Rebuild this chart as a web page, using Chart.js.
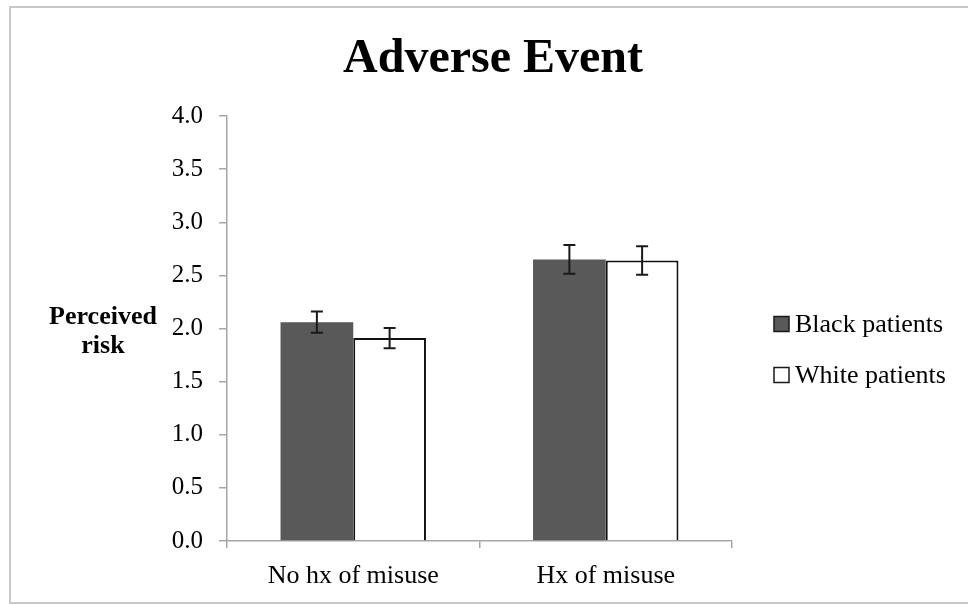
<!DOCTYPE html>
<html>
<head>
<meta charset="utf-8">
<title>Adverse Event</title>
<script src="https://cdn.jsdelivr.net/npm/chart.js@4/dist/chart.umd.min.js"></script>
<style>
  html, body { margin: 0; padding: 0; background: #fff; }
  #wrap { width: 968px; height: 604px; position: relative; }
</style>
</head>
<body>
<div id="wrap"><canvas id="chart" width="968" height="604"></canvas></div>
<script>
// Data
const categories = ['No hx of misuse', 'Hx of misuse'];
const seriesNames = ['Black patients', 'White patients'];
const blackValues = [2.06, 2.65];
const whiteValues = [1.91, 2.64];
const blackErrors = [0.10, 0.135];
const whiteErrors = [0.095, 0.135];
const yTicks = [0, 0.5, 1, 1.5, 2, 2.5, 3, 3.5, 4];

const SERIF = '"Liberation Serif", "Times New Roman", serif';
const AXIS_GREY = '#a6a6a6';

// error bars drawn from the y scale
const errorBarPlugin = {
  id: 'errorBars',
  afterDatasetsDraw(chart) {
    const ctx = chart.ctx;
    const y = chart.scales.y;
    ctx.save();
    ctx.strokeStyle = '#1a1a1a';
    ctx.lineWidth = 2;
    chart.data.datasets.forEach((ds, i) => {
      const meta = chart.getDatasetMeta(i);
      meta.data.forEach((bar, j) => {
        const v = ds.data[j];
        const e = ds.errors[j];
        const top = y.getPixelForValue(v + e);
        const bot = y.getPixelForValue(v - e);
        const cap = 6;
        ctx.beginPath();
        ctx.moveTo(bar.x, top); ctx.lineTo(bar.x, bot);
        ctx.moveTo(bar.x - cap, top); ctx.lineTo(bar.x + cap, top);
        ctx.moveTo(bar.x - cap, bot); ctx.lineTo(bar.x + cap, bot);
        ctx.stroke();
      });
    });
    ctx.restore();
  }
};

// title, horizontal y title, side legend and the frame
const decorPlugin = {
  id: 'decor',
  afterDraw(chart) {
    const ctx = chart.ctx;
    ctx.save();
    // frame
    ctx.strokeStyle = '#c8c8c8';
    ctx.lineWidth = 2;
    ctx.beginPath();
    ctx.moveTo(968, 7); ctx.lineTo(10, 7); ctx.lineTo(10, 603); ctx.lineTo(968, 603);
    ctx.stroke();

    ctx.fillStyle = '#000';
    ctx.textBaseline = 'alphabetic';
    ctx.textAlign = 'center';

    // title
    ctx.font = 'bold 48px ' + SERIF;
    ctx.fillText('Adverse Event', 493, 72);

    // y title
    ctx.font = 'bold 26px ' + SERIF;
    ctx.fillText('Perceived', 103, 324);
    ctx.fillText('risk', 103, 353);

    // legend
    ctx.font = '26px ' + SERIF;
    ctx.textAlign = 'left';
    chart.data.datasets.forEach((ds, i) => {
      const cy = 324 + i * 51;
      ctx.fillStyle = ds.backgroundColor;
      ctx.fillRect(774, cy - 7.5, 15, 15);
      ctx.strokeStyle = '#1a1a1a';
      ctx.lineWidth = 1.5;
      ctx.strokeRect(774, cy - 7.5, 15, 15);
      ctx.fillStyle = '#000';
      ctx.textBaseline = 'middle';
      ctx.fillText(ds.label, 795, cy + 1);
    });
    ctx.restore();
  }
};

new Chart(document.getElementById('chart'), {
  type: 'bar',
  data: {
    labels: categories,
    datasets: [
      {
        label: seriesNames[0],
        data: blackValues,
        errors: blackErrors,
        backgroundColor: '#595959',
        borderColor: '#595959',
        borderWidth: 0,
      },
      {
        label: seriesNames[1],
        data: whiteValues,
        errors: whiteErrors,
        backgroundColor: '#ffffff',
        borderColor: '#111111',
        borderWidth: 2,
      }
    ]
  },
  options: {
    responsive: false,
    animation: false,
    datasets: { bar: { categoryPercentage: 0.576, barPercentage: 1.0 } },
    layout: { padding: { left: 0, right: 236, top: 116, bottom: 0 } },
    plugins: {
      legend: { display: false },
      tooltip: { enabled: false },
      title: { display: false }
    },
    scales: {
      x: {
        offset: true,
        grid: { offset: true, drawOnChartArea: false, tickLength: 7, color: AXIS_GREY, lineWidth: 1.5 },
        border: { color: AXIS_GREY, width: 1.5 },
        ticks: { color: '#000', font: { family: SERIF, size: 26 }, padding: 13 },
        afterFit(scale) { scale.height = 63; }
      },
      y: {
        min: 0,
        max: 4,
        afterBuildTicks(scale) { scale.ticks = yTicks.map(v => ({ value: v })); },
        grid: { drawOnChartArea: false, tickLength: 8, color: AXIS_GREY, lineWidth: 1.5 },
        border: { color: AXIS_GREY, width: 1.5 },
        ticks: {
          color: '#000',
          font: { family: SERIF, size: 25 },
          padding: 16,
          callback: (v) => Number(v).toFixed(1)
        },
        afterFit(scale) { scale.width = 227; }
      }
    }
  },
  plugins: [errorBarPlugin, decorPlugin]
});
</script>
</body>
</html>
